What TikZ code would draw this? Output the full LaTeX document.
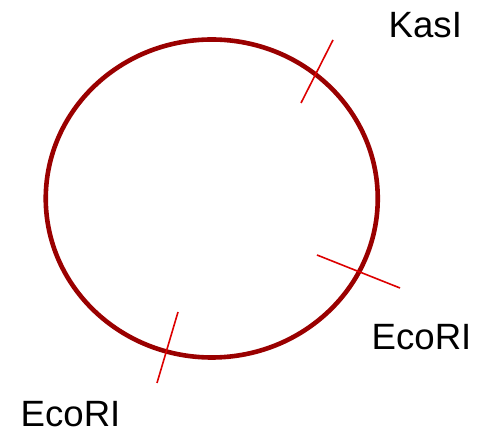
\documentclass[tikz,border=0pt]{standalone}
\usepackage{fontspec}
\setmainfont{Liberation Sans}
\usetikzlibrary{shapes.geometric}
\definecolor{Ring}{HTML}{9A0000}
\definecolor{Cut}{HTML}{DD0000}
\tikzset{
  ring/.style={draw=Ring,ellipse,line width=4.6pt,inner sep=0pt},
  cut/.style={draw=Cut,line width=1.6pt},
  site/.style={inner sep=0pt,text depth=0pt,anchor=base west,font=\fontsize{36.6}{40}\selectfont}
}
\begin{document}
\begin{tikzpicture}[x=1pt,y=-1pt]
  \useasboundingbox (0,0) rectangle (483,430);
  \node[ring,minimum width=332pt,minimum height=318pt] (plasmid) at (211.75,198.5) {};
  % cut sites
  \coordinate (kas-a) at (333,40);
  \coordinate (kas-b) at (301,103);
  \coordinate (ecoR-a) at (317,255);
  \coordinate (ecoR-b) at (400,288);
  \coordinate (ecoB-a) at (178,312);
  \coordinate (ecoB-b) at (157,383);
  \draw[cut] (kas-a) -- (kas-b);
  \draw[cut] (ecoR-a) -- (ecoR-b);
  \draw[cut] (ecoB-a) -- (ecoB-b);
  \node[site] (kasI) at (388.5,38) {KasI};
  \node[site] (ecoRIr) at (371.5,350) {EcoRI};
  \node[site] (ecoRIb) at (20.5,427) {EcoRI};
\end{tikzpicture}
\end{document}
